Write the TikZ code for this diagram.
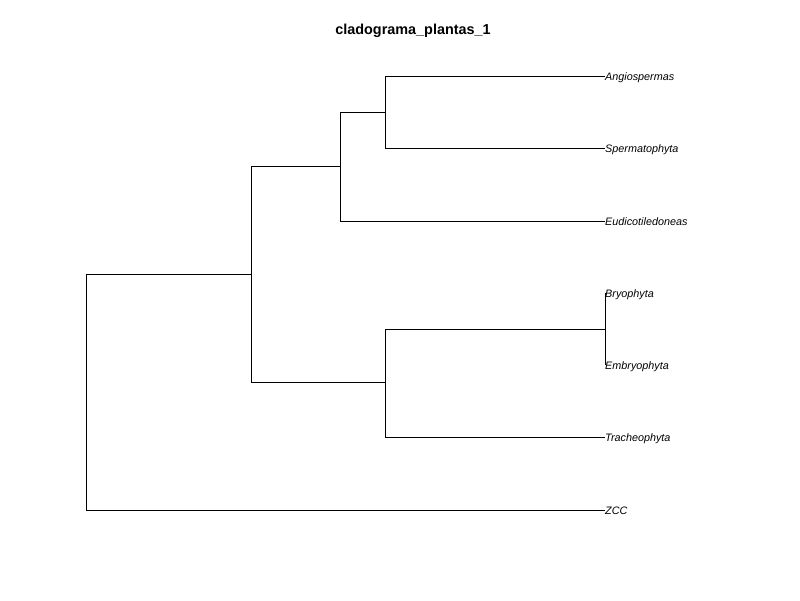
\documentclass[tikz,border=0pt]{standalone}
\usepackage{fontspec}
\setmainfont{Liberation Sans}
\usetikzlibrary{positioning}
\tikzstyle{taxon} = [
    anchor=west,
    inner sep=0pt,
    text height=8pt,
    text depth=0pt,
    font=\fontsize{10.8}{13}\selectfont\itshape
]
\tikzstyle{title} = [
    font=\fontsize{14.4}{17}\selectfont\bfseries
]
\tikzstyle{branch} = [line width=0.8pt, black]

\begin{document}
\begin{tikzpicture}[x=1pt, y=-1pt]
\useasboundingbox (0,0) rectangle (800,600);

\node (titulo) [title] at (413,31) {cladograma\_plantas\_1};

\node (angio) [taxon] at (605,76) {Angiospermas};
\node (sperm) [taxon] at (605,148) {Spermatophyta};
\node (eudi) [taxon] at (605,221) {Eudicotiledoneas};
\node (bryo) [taxon] at (605,293) {Bryophyta};
\node (embryo) [taxon] at (605,365) {Embryophyta};
\node (tracheo) [taxon] at (605,437) {Tracheophyta};
\node (zcc) [taxon] at (605,510) {ZCC};

\coordinate (n1) at (385,112);
\coordinate (n2) at (340,166);
\coordinate (n3) at (605,329);
\coordinate (n4) at (385,382);
\coordinate (n5) at (251,274);
\coordinate (raiz) at (86,392);

\draw [branch] (n1) |- (angio.west);
\draw [branch] (n1) |- (sperm.west);
\draw [branch] (n2) |- (n1);
\draw [branch] (n2) |- (eudi.west);
\draw [branch] (n3) |- (bryo.west);
\draw [branch] (n3) |- (embryo.west);
\draw [branch] (n4) |- (n3);
\draw [branch] (n4) |- (tracheo.west);
\draw [branch] (n5) |- (n2);
\draw [branch] (n5) |- (n4);
\draw [branch] (raiz) |- (n5);
\draw [branch] (raiz) |- (zcc.west);

\end{tikzpicture}
\end{document}
